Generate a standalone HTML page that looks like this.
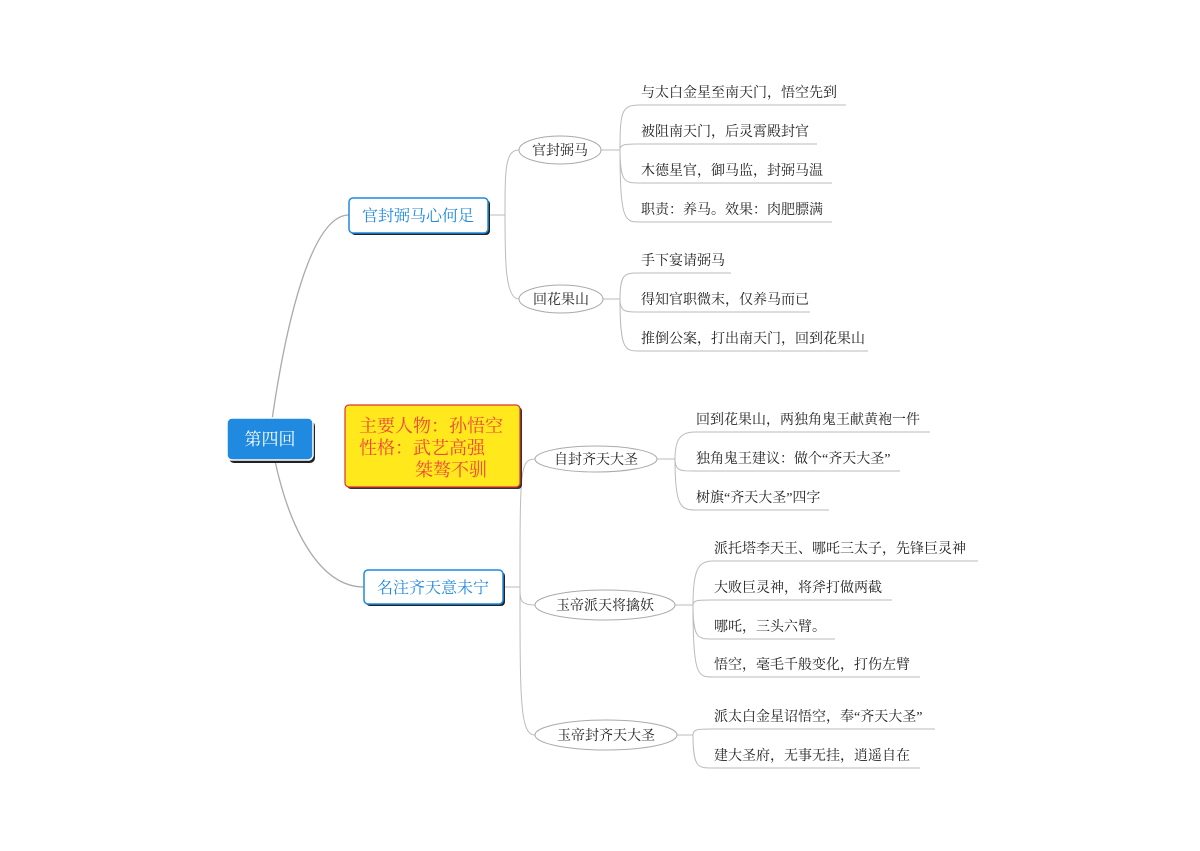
<!DOCTYPE html>
<html><head><meta charset="utf-8"><style>
html,body{margin:0;padding:0;background:#fff;}
svg text{font-family:"Liberation Serif","Noto Serif CJK SC",serif;}
</style></head><body>
<svg width="1200" height="846" viewBox="0 0 1200 846" xmlns="http://www.w3.org/2000/svg">
<g fill="none" stroke="#aaa" stroke-width="1.3">
<path d="M272 420 C285 330 310 215 349 215"/>
<path d="M275 461 C290 530 320 587 364 587"/>
</g>
<g fill="none" stroke="#bbb" stroke-width="1">
<path d="M488 215 H505"/>
<path d="M505 215 C505 170 505 150 519 150"/>
<path d="M505 215 C505 260 505 299 519 299"/>
<path d="M601 150 H620"/>
<path d="M620 150 C620 110 622 105 640 105 H846"/>
<path d="M620 150 C620 144 625 144 640 144 H817"/>
<path d="M620 150 C620 183 625 183 640 183 H832"/>
<path d="M620 150 C620 222 625 222 640 222 H832"/>
<path d="M603 299 H620"/>
<path d="M620 299 C620 273 625 273 640 273 H731"/>
<path d="M620 299 C620 312 625 312 640 312 H810"/>
<path d="M620 299 C620 351 625 351 640 351 H868"/>
<path d="M503 587 H520"/>
<path d="M520 587 C520 470 520 459 535 459"/>
<path d="M520 587 C520 600 520 605 535 605"/>
<path d="M520 587 C520 700 520 735 535 735"/>
<path d="M656 459 H675"/>
<path d="M675 459 C675 440 680 432 695 432 H930"/>
<path d="M675 459 C675 471 680 471 695 471 H900"/>
<path d="M675 459 C675 505 680 510 695 510 H829"/>
<path d="M675 605 H693"/>
<path d="M693 605 C693 570 698 561 713 561 H978"/>
<path d="M693 605 C693 600 698 600 713 600 H892"/>
<path d="M693 605 C693 639 698 639 713 639 H835"/>
<path d="M693 605 C693 677 698 677 713 677 H920"/>
<path d="M677 735 H693"/>
<path d="M693 735 C693 729 698 729 713 729 H935"/>
<path d="M693 735 C693 768 698 768 713 768 H920"/>
</g>
<rect x="229" y="421" width="86" height="42" rx="5" fill="#222"/>
<rect x="227" y="418" width="86" height="42" rx="5" fill="#1f8ae0" stroke="#fff" stroke-width="1.5"/>
<text x="270" y="445" font-size="17" fill="#fff" text-anchor="middle">第四回</text>
<rect x="351" y="200" width="139" height="35" rx="4" fill="#222"/>
<rect x="349" y="198" width="139" height="35" rx="4" fill="#fff" stroke="#1f8ae0" stroke-width="1.5"/>
<text x="418" y="221" font-size="16" fill="#1f8ae0" text-anchor="middle">官封弼马心何足</text>
<rect x="366" y="572" width="139" height="34" rx="4" fill="#222"/>
<rect x="364" y="570" width="139" height="34" rx="4" fill="#fff" stroke="#1f8ae0" stroke-width="1.5"/>
<text x="433" y="593" font-size="16" fill="#1f8ae0" text-anchor="middle">名注齐天意未宁</text>
<rect x="347" y="407" width="175" height="82" rx="4" fill="#333"/>
<rect x="345" y="405" width="175" height="82" rx="4" fill="#ffe81c" stroke="#e03030" stroke-width="1.2"/>
<text x="359" y="432" font-size="18" fill="#f0463c">主要人物：孙悟空</text>
<text x="359" y="454" font-size="18" fill="#f0463c">性格：武艺高强</text>
<text x="415" y="476" font-size="18" fill="#f0463c">桀骜不驯</text>
<g fill="#fff" stroke="#aaa" stroke-width="1">
<ellipse cx="560" cy="150" rx="41" ry="14"/>
<ellipse cx="561" cy="299" rx="42" ry="14"/>
<ellipse cx="596" cy="459" rx="61" ry="13"/>
<ellipse cx="605" cy="605" rx="70" ry="15"/>
<ellipse cx="606" cy="735" rx="71" ry="15"/>
</g>
<g font-size="14" fill="#222" text-anchor="middle">
<text x="560" y="155">官封弼马</text>
<text x="561" y="304">回花果山</text>
<text x="596" y="464">自封齐天大圣</text>
<text x="605" y="610">玉帝派天将擒妖</text>
<text x="606" y="740">玉帝封齐天大圣</text>
</g>
<g font-size="14" fill="#222">
<text x="641" y="97">与太白金星至南天门，悟空先到</text>
<text x="641" y="136">被阻南天门，后灵霄殿封官</text>
<text x="641" y="175">木德星官，御马监，封弼马温</text>
<text x="641" y="214">职责：养马。效果：肉肥膘满</text>
<text x="641" y="265">手下宴请弼马</text>
<text x="641" y="304">得知官职微末，仅养马而已</text>
<text x="641" y="343">推倒公案，打出南天门，回到花果山</text>
<text x="696" y="424">回到花果山，两独角鬼王献黄袍一件</text>
<text x="696" y="463">独角鬼王建议：做个“齐天大圣”</text>
<text x="696" y="502">树旗“齐天大圣”四字</text>
<text x="714" y="553">派托塔李天王、哪吒三太子，先锋巨灵神</text>
<text x="714" y="592">大败巨灵神，将斧打做两截</text>
<text x="714" y="631">哪吒，三头六臂。</text>
<text x="714" y="669">悟空，毫毛千般变化，打伤左臂</text>
<text x="714" y="721">派太白金星诏悟空，奉“齐天大圣”</text>
<text x="714" y="760">建大圣府，无事无挂，逍遥自在</text>
</g>
</svg>
</body></html>
